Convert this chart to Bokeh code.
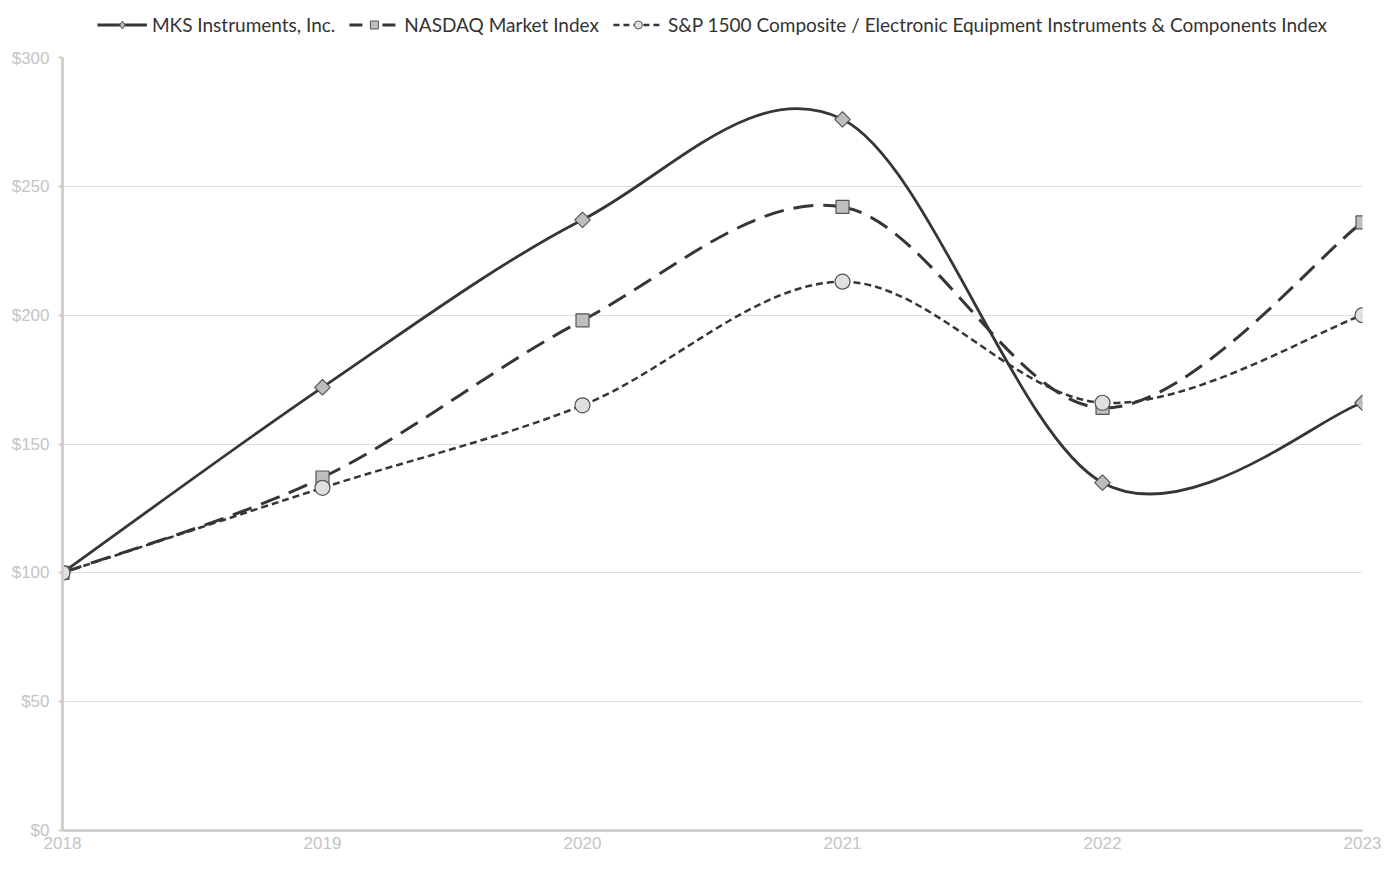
import math
from bokeh.plotting import figure
from bokeh.layouts import column
from bokeh.models import (ColumnDataSource, Legend, LegendItem, FixedTicker,
                          NumeralTickFormatter, Range1d)
from bokeh.embed import file_html
from bokeh.resources import INLINE

years = [2018, 2019, 2020, 2021, 2022, 2023]
mks = [100, 172, 237, 276, 135, 166]
nasdaq = [100, 137, 198, 242, 164, 236]
sp1500 = [100, 133, 165, 213, 166, 200]
labels = ["MKS Instruments, Inc.", "NASDAQ Market Index",
          "S&P 1500 Composite / Electronic Equipment Instruments & Components Index"]
y_ticks = [0, 50, 100, 150, 200, 250, 300]

p = figure(width=1386, height=812, output_backend="svg", toolbar_location=None,
           x_range=Range1d(2018, 2023), y_range=Range1d(0, 300),
           min_border_left=62, min_border_right=24, min_border_top=9,
           min_border_bottom=30)
p.outline_line_color = None
p.background_fill_color = "white"

p.xgrid.grid_line_color = None
p.ygrid.grid_line_color = "#dedede"
p.ygrid.grid_line_width = 1
p.ygrid.ticker = FixedTicker(ticks=y_ticks)

for ax in (p.xaxis[0], p.yaxis[0]):
    ax.axis_line_color = "#cfcfcf"
    ax.axis_line_width = 3
    ax.major_tick_line_color = "#cfcfcf"
    ax.major_tick_line_width = 2
    ax.minor_tick_line_color = None
    ax.major_label_text_color = "#c4c4c4"
    ax.major_label_text_font = "Liberation Sans"
    ax.major_label_text_font_size = "17px"

p.yaxis.ticker = FixedTicker(ticks=y_ticks)
p.yaxis.formatter = NumeralTickFormatter(format="$0")
p.yaxis.major_tick_in = 0
p.yaxis.major_tick_out = 4
p.yaxis.major_label_standoff = 9
p.xaxis.ticker = FixedTicker(ticks=years)
p.xaxis.major_label_overrides = {y: str(y) for y in years}
p.xaxis.major_tick_in = 0
p.xaxis.major_tick_out = 0
p.xaxis.major_label_standoff = 6


def bezier_source(xs, ys):
    n = len(xs)
    d = dict(x0=[], y0=[], x1=[], y1=[], cx0=[], cy0=[], cx1=[], cy1=[])
    for i in range(n - 1):
        xa, ya = (xs[i - 1], ys[i - 1]) if i > 0 else (xs[i], ys[i])
        xb, yb = xs[i], ys[i]
        xc, yc = xs[i + 1], ys[i + 1]
        xd, yd = (xs[i + 2], ys[i + 2]) if i + 2 < n else (xs[i + 1], ys[i + 1])
        d["x0"].append(xb); d["y0"].append(yb)
        d["x1"].append(xc); d["y1"].append(yc)
        d["cx0"].append(xb + (xc - xa) / 6); d["cy0"].append(yb + (yc - ya) / 6)
        d["cx1"].append(xc - (xd - xb) / 6); d["cy1"].append(yc - (yd - yb) / 6)
    return ColumnDataSource(d)

line_col = "#363636"
# values, dash, legend dash, width, marker, size, angle, legend marker, fill
series = [
    (mks, "solid", "solid", 2.8, "square", 11, math.pi / 4, "diamond", "#bdbdbd"),
    (nasdaq, "20 10", "13 20", 3, "square", 13, 0, "square", "#bfbfbf"),
    (sp1500, "7 4", "6 4", 2.5, "circle", 15, 0, "circle", "#e0e0e0"),
]

# legend strip above the chart
lg = figure(width=1386, height=48, output_backend="svg", toolbar_location=None,
            min_border=0)
lg.axis.visible = False
lg.grid.visible = False
lg.outline_line_color = None

items = []
for (vals, dash, ldash, lw, marker, msize, ang, lmarker, mfill), lab in zip(series, labels):
    p.bezier(x0="x0", y0="y0", x1="x1", y1="y1", cx0="cx0", cy0="cy0",
             cx1="cx1", cy1="cy1", source=bezier_source(years, vals),
             line_color=line_col, line_width=lw, line_dash=dash)
    p.scatter(x=years, y=vals, marker=marker, size=msize, angle=ang,
              fill_color=mfill, line_color="#555555", line_width=1.2)
    lr = lg.line(x=years, y=vals, line_color=line_col, line_width=lw,
                 line_dash=ldash, visible=False)
    sr = lg.scatter(x=years, y=vals, marker=lmarker,
                    size=12 if lmarker == "diamond" else msize - 3,
                    fill_color=mfill, line_color="#555555", line_width=1,
                    visible=False)
    items.append(LegendItem(label=lab, renderers=[lr, sr]))

legend = Legend(items=items, orientation="horizontal", location="center",
                label_text_font="Lato", label_text_font_size="19px",
                label_text_color="#333333", border_line_color=None,
                background_fill_alpha=0, glyph_width=50, spacing=14,
                label_standoff=5, padding=2, margin=0)
lg.add_layout(legend, "center")

layout = column(lg, p, spacing=0)
open("out.html", "w").write(file_html(layout, INLINE))
